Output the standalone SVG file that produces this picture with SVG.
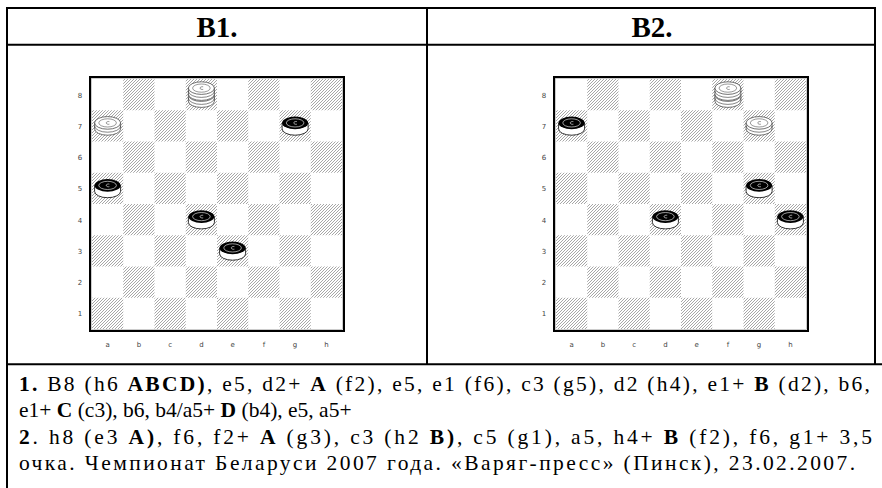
<svg xmlns="http://www.w3.org/2000/svg" xmlns:xlink="http://www.w3.org/1999/xlink" width="882" height="488" viewBox="0 0 882 488">
<style>
.tbl{stroke:#000;stroke-width:2;fill:none}
.ttl{font-family:"Liberation Serif",serif;font-size:29px;font-weight:bold;text-anchor:middle;fill:#000}
.txt{font-family:"Liberation Serif",serif;font-size:21.5px;fill:#000;white-space:pre}
.b{font-weight:bold}
.lbl{font-family:"DejaVu Sans",sans-serif;font-size:7px;fill:#444;text-anchor:middle}
.dk{fill:url(#hatch)}
</style>
<defs>
<pattern id="hatch" patternUnits="userSpaceOnUse" width="3" height="3">
<path d="M0,3 L3,0 M-1,1 L1,-1 M2,4 L4,2" stroke="#8a8a8a" stroke-width="0.75"/>
</pattern>
<g id="bm">
<path d="M-13,-3 V3 A13,6.3 0 0 0 13,3 V-3 Z" fill="#fff" stroke="#000" stroke-width="0.8"/>
<ellipse cx="0" cy="-3" rx="13" ry="6.3" fill="#000"/>
<ellipse cx="0" cy="-3" rx="8.8" ry="4.1" fill="none" stroke="#fff" stroke-width="0.6"/>
<path d="M1.8,-4.3 A2.3,1.4 0 1 0 1.8,-1.7" fill="none" stroke="#fff" stroke-width="0.6"/>
</g>
<g id="wm">
<path d="M-13,-3 V3 A13,6.3 0 0 0 13,3 V-3 Z" fill="#fff" stroke="#333" stroke-width="0.7"/>
<path d="M-13,0 A13,6.3 0 0 0 13,0" fill="none" stroke="#333" stroke-width="0.6"/>
<ellipse cx="0" cy="-3" rx="13" ry="6.3" fill="#fff" stroke="#333" stroke-width="0.7"/>
<ellipse cx="0" cy="-3" rx="8.8" ry="4.1" fill="none" stroke="#333" stroke-width="0.5"/>
<path d="M1.8,-4.3 A2.3,1.4 0 1 0 1.8,-1.7" fill="none" stroke="#333" stroke-width="0.5"/>
</g>
<g id="wk">
<use xlink:href="#wm" href="#wm" y="3.5"/>
<use xlink:href="#wm" href="#wm" y="-3.5"/>
</g>
<g id="board">
<rect x="0" y="0" width="250" height="250" fill="#fff"/>
<g class="dk">
<rect x="31.25" y="0" width="31.25" height="31.25"/><rect x="93.75" y="0" width="31.25" height="31.25"/><rect x="156.25" y="0" width="31.25" height="31.25"/><rect x="218.75" y="0" width="31.25" height="31.25"/>
<rect x="0" y="31.25" width="31.25" height="31.25"/><rect x="62.5" y="31.25" width="31.25" height="31.25"/><rect x="125" y="31.25" width="31.25" height="31.25"/><rect x="187.5" y="31.25" width="31.25" height="31.25"/>
<rect x="31.25" y="62.5" width="31.25" height="31.25"/><rect x="93.75" y="62.5" width="31.25" height="31.25"/><rect x="156.25" y="62.5" width="31.25" height="31.25"/><rect x="218.75" y="62.5" width="31.25" height="31.25"/>
<rect x="0" y="93.75" width="31.25" height="31.25"/><rect x="62.5" y="93.75" width="31.25" height="31.25"/><rect x="125" y="93.75" width="31.25" height="31.25"/><rect x="187.5" y="93.75" width="31.25" height="31.25"/>
<rect x="31.25" y="125" width="31.25" height="31.25"/><rect x="93.75" y="125" width="31.25" height="31.25"/><rect x="156.25" y="125" width="31.25" height="31.25"/><rect x="218.75" y="125" width="31.25" height="31.25"/>
<rect x="0" y="156.25" width="31.25" height="31.25"/><rect x="62.5" y="156.25" width="31.25" height="31.25"/><rect x="125" y="156.25" width="31.25" height="31.25"/><rect x="187.5" y="156.25" width="31.25" height="31.25"/>
<rect x="31.25" y="187.5" width="31.25" height="31.25"/><rect x="93.75" y="187.5" width="31.25" height="31.25"/><rect x="156.25" y="187.5" width="31.25" height="31.25"/><rect x="218.75" y="187.5" width="31.25" height="31.25"/>
<rect x="0" y="218.75" width="31.25" height="31.25"/><rect x="62.5" y="218.75" width="31.25" height="31.25"/><rect x="125" y="218.75" width="31.25" height="31.25"/><rect x="187.5" y="218.75" width="31.25" height="31.25"/>
</g>
<rect x="-2" y="-2" width="254" height="254" fill="none" stroke="#000" stroke-width="2"/>
<rect x="-0.5" y="-0.5" width="251" height="251" fill="none" stroke="#aaa" stroke-width="0.6"/>
<g class="lbl">
<text x="-12" y="18.5">8</text><text x="-12" y="49.8">7</text><text x="-12" y="81">6</text><text x="-12" y="112.3">5</text>
<text x="-12" y="143.5">4</text><text x="-12" y="174.8">3</text><text x="-12" y="206">2</text><text x="-12" y="237.3">1</text>
<text x="15.6" y="268">a</text><text x="46.9" y="268">b</text><text x="78.1" y="268">c</text><text x="109.4" y="268">d</text>
<text x="140.6" y="268">e</text><text x="171.9" y="268">f</text><text x="203.1" y="268">g</text><text x="234.4" y="268">h</text>
</g>
</g>
</defs>

<g id="table">
<line class="tbl" x1="6" y1="8" x2="876" y2="8"/>
<line class="tbl" x1="7" y1="7" x2="7" y2="488"/>
<line class="tbl" x1="875" y1="7" x2="875" y2="365"/>
<line class="tbl" x1="427" y1="7" x2="427" y2="365"/>
<line class="tbl" x1="6" y1="44.7" x2="876" y2="44.7"/>
<line class="tbl" x1="6" y1="364.3" x2="882" y2="364.3"/>
</g>

<g id="title-b1"><text class="ttl" x="217" y="37">B1.</text></g>
<g id="title-b2"><text class="ttl" x="652" y="37">B2.</text></g>

<g id="board-b1" transform="translate(92,79)">
<use xlink:href="#board" href="#board"/>
<use xlink:href="#wk" href="#wk" x="109.4" y="15.6"/>
<use xlink:href="#wm" href="#wm" x="15.6" y="46.9"/>
<use xlink:href="#bm" href="#bm" x="203.1" y="46.9"/>
<use xlink:href="#bm" href="#bm" x="15.6" y="109.4"/>
<use xlink:href="#bm" href="#bm" x="109.4" y="140.6"/>
<use xlink:href="#bm" href="#bm" x="140.6" y="171.9"/>
</g>

<g id="board-b2" transform="translate(556,79)">
<use xlink:href="#board" href="#board"/>
<use xlink:href="#wk" href="#wk" x="171.9" y="15.6"/>
<use xlink:href="#wm" href="#wm" x="203.1" y="46.9"/>
<use xlink:href="#bm" href="#bm" x="15.6" y="46.9"/>
<use xlink:href="#bm" href="#bm" x="203.1" y="109.4"/>
<use xlink:href="#bm" href="#bm" x="109.4" y="140.6"/>
<use xlink:href="#bm" href="#bm" x="234.4" y="140.6"/>
</g>

<g id="notes" class="txt">
<text x="19" y="391" textLength="851" lengthAdjust="spacing"><tspan class="b">1.</tspan> B8 (h6 <tspan class="b">ABCD)</tspan>, e5, d2+ <tspan class="b">A</tspan> (f2), e5, e1 (f6), c3 (g5), d2 (h4), e1+ <tspan class="b">B</tspan> (d2), b6,</text>
<text x="19" y="417">e1+ <tspan class="b">C</tspan> (c3), b6, b4/a5+ <tspan class="b">D</tspan> (b4), e5, a5+</text>
<text x="19" y="444" textLength="853" lengthAdjust="spacing"><tspan class="b">2</tspan>. h8 (e3 <tspan class="b">A)</tspan>, f6, f2+ <tspan class="b">A</tspan> (g3), c3 (h2 <tspan class="b">B)</tspan>, c5 (g1), a5, h4+ <tspan class="b">B</tspan>  (f2), f6, g1+ 3,5</text>
<text x="19" y="470" textLength="836" lengthAdjust="spacing">очка. Чемпионат Беларуси 2007 года. «Варяг-пресс» (Пинск), 23.02.2007.</text>
</g>
</svg>
